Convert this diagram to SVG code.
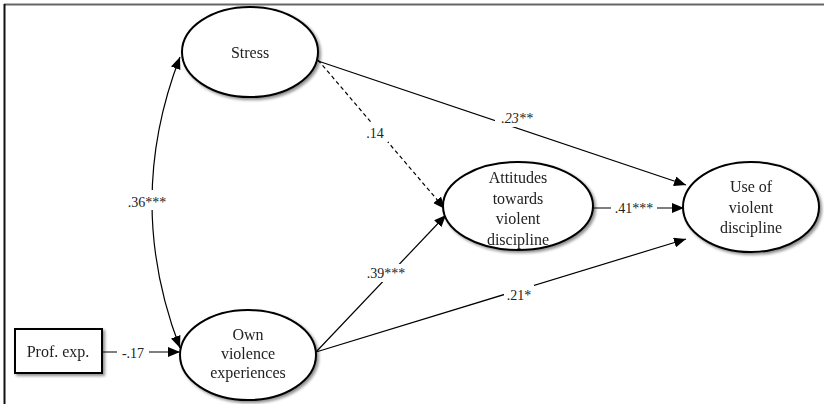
<svg xmlns="http://www.w3.org/2000/svg" width="824" height="404" viewBox="0 0 824 404">
<defs>
<marker id="ah" viewBox="0 0 12 10" refX="12" refY="5" markerWidth="12" markerHeight="10" markerUnits="userSpaceOnUse" orient="auto-start-reverse">
<path d="M0,0 L12,5 L0,10 Z" fill="#000"/>
</marker>
<filter id="sh" x="-10%" y="-10%" width="130%" height="130%">
<feGaussianBlur in="SourceAlpha" stdDeviation="1.5"/>
<feOffset dx="2" dy="2" result="b"/>
<feComponentTransfer><feFuncA type="linear" slope="0.45"/></feComponentTransfer>
<feMerge><feMergeNode/><feMergeNode in="SourceGraphic"/></feMerge>
</filter>
<style>
.node{fill:#fff;stroke:#000;stroke-width:2}
.t{font-size:16px;fill:#222;text-anchor:middle}
.l{font-size:14px;fill:#222;text-anchor:middle}
.e{fill:none;stroke:#000;stroke-width:1.2}
.bg{fill:#fff}
</style>
</defs>
<rect width="824" height="404" fill="#fff"/>
<line x1="4" y1="4.5" x2="824" y2="4.5" stroke="#666" stroke-width="2"/>
<line x1="4.5" y1="4" x2="4.5" y2="404" stroke="#111" stroke-width="2"/>

<g id="connectors" font-family="'Liberation Serif', 'Times New Roman', serif">
<path class="e" d="M180,57 Q124,202 180,348" marker-start="url(#ah)" marker-end="url(#ah)"/>
<line class="e" x1="103" y1="352" x2="180" y2="352" marker-end="url(#ah)"/>
<line class="e" x1="318" y1="61" x2="686" y2="185" marker-end="url(#ah)"/>
<line class="e" x1="318" y1="60" x2="445" y2="209" stroke-dasharray="4,3" marker-end="url(#ah)"/>
<line class="e" x1="316" y1="352" x2="446" y2="215" marker-end="url(#ah)"/>
<line class="e" x1="316" y1="352" x2="686" y2="239" marker-end="url(#ah)"/>
<line class="e" x1="593" y1="208" x2="684" y2="208" marker-end="url(#ah)"/>
<rect class="bg" x="125" y="190" width="45" height="20"/>
<text class="l" x="147" y="207">.36***</text>
<rect class="bg" x="117" y="343" width="32" height="18"/>
<text class="l" x="133" y="358">-.17</text>
<rect class="bg" x="495" y="107" width="45" height="20"/>
<text class="l" x="517" y="123" font-style="italic">.23**</text>
<rect class="bg" x="364" y="122" width="24" height="20"/>
<text class="l" x="375" y="138">.14</text>
<rect class="bg" x="362" y="264" width="48" height="18"/>
<text class="l" x="386" y="278">.39***</text>
<rect class="bg" x="504" y="285" width="30" height="18"/>
<text class="l" x="519" y="300">.21*</text>
<rect class="bg" x="611" y="199" width="46" height="18"/>
<text class="l" x="634" y="213">.41***</text>
</g>

<g id="nodes" font-family="'Liberation Serif', 'Times New Roman', serif">
<g id="prof" filter="url(#sh)">
<rect class="node" x="15" y="329" width="87" height="44"/>
<text class="t" x="58" y="357">Prof. exp.</text>
</g>
<g id="stress" filter="url(#sh)">
<ellipse class="node" cx="250" cy="52" rx="68" ry="45"/>
<text class="t" x="250" y="58">Stress</text>
</g>
<g id="own" filter="url(#sh)">
<ellipse class="node" cx="248" cy="355" rx="68" ry="45"/>
<text class="t" x="248" y="340">Own</text>
<text class="t" x="248" y="359">violence</text>
<text class="t" x="248" y="378">experiences</text>
</g>
<g id="attitudes" filter="url(#sh)">
<ellipse class="node" cx="518" cy="206" rx="75" ry="44"/>
<text class="t" x="518" y="183">Attitudes</text>
<text class="t" x="518" y="204">towards</text>
<text class="t" x="518" y="224">violent</text>
<text class="t" x="518" y="245">discipline</text>
</g>
<g id="use" filter="url(#sh)">
<ellipse class="node" cx="751" cy="207" rx="68" ry="45"/>
<text class="t" x="751" y="192">Use of</text>
<text class="t" x="751" y="213">violent</text>
<text class="t" x="751" y="233">discipline</text>
</g>
</g>
</svg>
